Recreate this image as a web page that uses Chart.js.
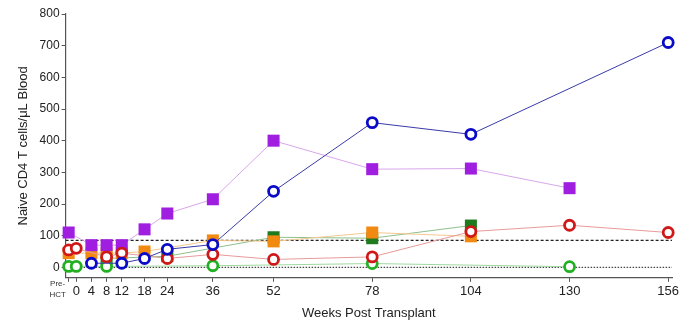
<!DOCTYPE html>
<html>
<head>
<meta charset="utf-8">
<script src="https://cdn.jsdelivr.net/npm/chart.js@4"></script>
<style>
  html, body { margin: 0; padding: 0; background: #fff; }
  #wrap { width: 694px; height: 327px; }
</style>
</head>
<body>
<div id="wrap"><canvas id="myChart" width="694" height="327"></canvas></div>
<script>
// weeks post transplant; -2 stands for the Pre-HCT sample
const weeks = [-2, 0, 4, 8, 12, 18, 24, 36, 52, 78, 104, 130, 156];
const xTicks = [-2, 0, 4, 8, 12, 18, 24, 36, 52, 78, 104, 130, 156];
const yTicks = [0, 100, 200, 300, 400, 500, 600, 700, 800];

const purpleVals = [110, null, 70, 70, 70, 120, 170, 215, 400, 310, 312, 250, null];
const blueVals   = [null, null, 13, null, 13, 28, 57, 72, 240, 457, 420, null, 710];
const redVals    = [55, 60, null, 33, 45, null, 28, 41, 25, 33, 113, 133, 110];
const greenVals  = [3, 3, null, 3, null, null, null, 5, null, 12, null, 2, null];
const orangeVals = [45, null, 45, 45, 45, 50, null, 85, 82, 110, 98, null, null];
const dkGreenVals = [null, null, null, 28, null, null, 35, null, 95, 92, 132, null, null];

const upperRef = 85;
const lowerRef = 0;
const xMin = -2.8, xMax = 157;

let toPoints = vals => weeks.map((w, i) => ({ x: w, y: vals[i] })).filter(p => p.y !== null);

let series = (label, vals, color, lineColor, style, order) => ({
    label: label,
    data: toPoints(vals),
    borderColor: lineColor,
    borderWidth: 1,
    pointStyle: style,
    pointRadius: style === 'rect' ? 8.5 : 5,
    pointBorderWidth: style === 'rect' ? 0 : 2.8,
    pointBorderColor: color,
    pointBackgroundColor: style === 'rect' ? color : '#fff',
    spanGaps: true,
    clip: false,
    order: order
});

let refLine = (y, dash, color) => ({
    data: [{ x: xMin, y: y }, { x: xMax, y: y }],
    borderColor: color,
    borderWidth: 1.2,
    borderDash: dash,
    pointRadius: 0,
    order: 10
});

// draws the two-line "Pre- / HCT" label left of week 0
const preHctLabel = {
    id: 'preHctLabel',
    afterDraw(chart) {
        let ctx = chart.ctx;
        let x = chart.scales.x.getPixelForValue(-2) - 11;
        let yTop = chart.scales.x.top;
        ctx.save();
        ctx.fillStyle = '#333';
        ctx.font = '8px "Liberation Sans", Arial, sans-serif';
        ctx.textAlign = 'center';
        ctx.textBaseline = 'middle';
        ctx.fillText('Pre-', x, yTop + 6);
        ctx.fillText('HCT', x, yTop + 17);
        ctx.restore();
    }
};

let ctx = document.getElementById('myChart').getContext('2d');
let myChart = new Chart(ctx, {
    type: 'line',
    data: {
        datasets: [
            series('Patient 1', blueVals, '#0a0ac8', '#3a3aa8', 'circle', 1),
            series('Patient 2', redVals, '#d01818', '#e89a9a', 'circle', 2),
            series('Patient 3', greenVals, '#22b022', '#9fd89f', 'circle', 3),
            series('Patient 4', purpleVals, '#a01ee0', '#d8a6ea', 'rect', 4),
            series('Patient 5', orangeVals, '#f28a12', '#f3c88e', 'rect', 5),
            series('Patient 6', dkGreenVals, '#1d7a1d', '#8cc08c', 'rect', 6),
            refLine(upperRef, [3, 2], '#222'),
            refLine(lowerRef, [1.5, 1.5], '#444')
        ]
    },
    options: {
        responsive: false,
        animation: false,
        layout: { padding: { left: 12, right: 22, top: 14, bottom: 2 } },
        plugins: {
            legend: { display: false },
            tooltip: { enabled: false }
        },
        scales: {
            x: {
                type: 'linear',
                min: xMin,
                max: xMax,
                afterBuildTicks: axis => { axis.ticks = xTicks.map(v => ({ value: v })); },
                ticks: {
                    autoSkip: false,
                    maxRotation: 0,
                    padding: 2,
                    color: '#222',
                    font: { family: '"Liberation Sans", Arial, sans-serif', size: 13 },
                    callback: v => v === -2 ? '' : String(v)
                },
                grid: { drawOnChartArea: false, drawTicks: true, tickLength: 4, tickColor: '#555' },
                border: { color: '#555', width: 1.2 },
                title: {
                    display: true,
                    text: 'Weeks Post Transplant',
                    color: '#222',
                    padding: { top: 4 },
                    font: { family: '"Liberation Sans", Arial, sans-serif', size: 13 }
                }
            },
            y: {
                min: -33,
                max: 800,
                afterBuildTicks: axis => { axis.ticks = yTicks.map(v => ({ value: v })); },
                ticks: {
                    padding: 2,
                    color: '#222',
                    font: { family: '"Liberation Sans", Arial, sans-serif', size: 12 }
                },
                grid: { drawOnChartArea: false, drawTicks: true, tickLength: 4, tickColor: '#555' },
                border: { color: '#555', width: 1.2 },
                title: {
                    display: true,
                    text: 'Naive CD4 T cells/μL Blood',
                    color: '#222',
                    padding: { bottom: 6 },
                    font: { family: '"Liberation Sans", Arial, sans-serif', size: 13 }
                }
            }
        }
    },
    plugins: [preHctLabel]
});
</script>
</body>
</html>
